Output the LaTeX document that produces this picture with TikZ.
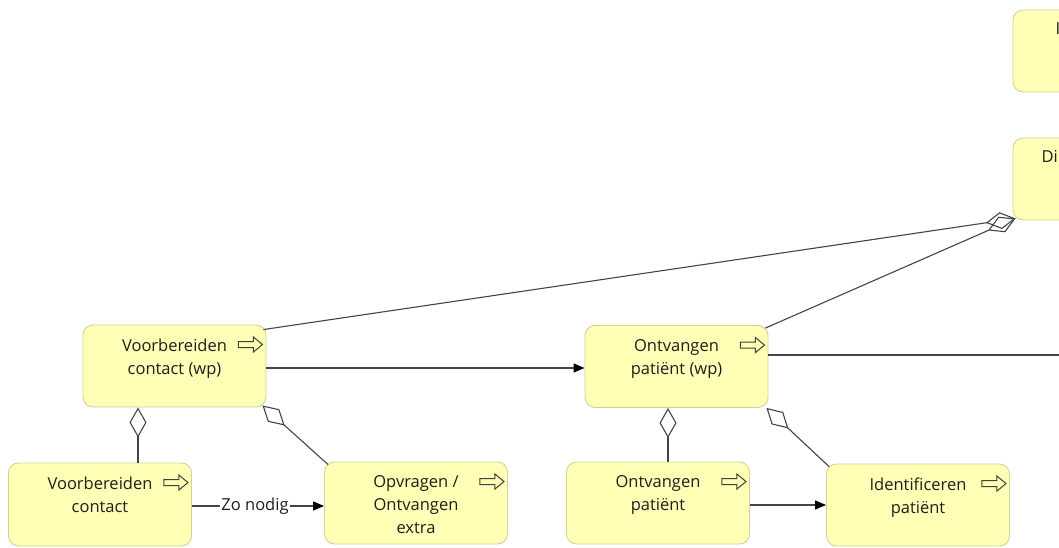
\documentclass[tikz,border=0pt]{standalone}
\usepackage{fontspec}
\setmainfont{Open Sans}
\usetikzlibrary{arrows.meta,calc}
\definecolor{boxfill}{HTML}{FFFFB5}
\definecolor{boxline}{HTML}{D2D298}
\definecolor{wire}{HTML}{444444}
\definecolor{ink}{HTML}{1E1E1E}
% outline "process" arrow drawn inside the upper right corner of a box
\newcommand\procicon[1]{%
  \draw[icon, shift={(#1.north east)}] (-4,20) -- ++(-9,-7.5) -- ++(0,4.5) -- ++(-15,0)
    -- ++(0,6) -- ++(15,0) -- ++(0,4.5) -- cycle;}
\begin{document}
\begin{tikzpicture}[x=1pt,y=-1pt,
  proc/.style={draw=boxline, fill=boxfill, line width=0.9pt, rounded corners=10pt,
    minimum width=183pt, minimum height=82pt, inner sep=0pt},
  txt/.style={font=\fontsize{16.5}{23}\selectfont, text=ink, align=center},
  cap/.style={label={[txt, anchor=north, yshift=-10.5pt]north:#1}},
  icon/.style={draw=ink!85, fill=boxfill, line width=1pt, line join=miter},
  wireline/.style={draw=wire, line width=1.1pt},
  flow/.style={wireline, -{Triangle[length=11pt,width=9pt,color=black]}},
  agg/.style={wireline, {Diamond[open,length=30pt,width=17pt]}-},
]
\useasboundingbox (0,0) rectangle (1059,548);
\clip (0,0) rectangle (1059,548);

% boxes
\node[proc, cap={Voorbereiden\\contact (wp)}] (A) at (174.5,366) {};
\node[proc, cap={Ontvangen\\patiënt (wp)}] (B) at (676.5,366.5) {};
\node[proc, minimum height=83pt, cap={Voorbereiden\\contact}] (C) at (100,504.5) {};
\node[proc, cap={Opvragen /\\Ontvangen\\extra}] (D) at (416,503) {};
\node[proc, cap={Ontvangen\\patiënt}] (E) at (658,503) {};
\node[proc, cap={Identificeren\\patiënt}] (F) at (918,505) {};
\node[proc] (G) at (1104.5,51) {};
\node[proc] (H) at (1104.5,179) {};
\node[txt, inner sep=0pt, anchor=base west] (Gt) at (1055.5,35) {I};
\node[txt, inner sep=0pt, anchor=base west] (Ht) at (1041.5,163) {Di};

\foreach \n in {A,B,C,D,E,F} {\procicon{\n}}

% flows
\draw[flow] (A.east |- 0,368) -- (B.west |- 0,368);
\coordinate (Rout) at (1070,355);
\draw[wireline] (B.east |- Rout) -- (Rout);
\draw[flow] (C.east |- 0,506) -- node[txt, fill=white, inner sep=1pt, xshift=-3pt] (zo) {Zo nodig} (D.west |- 0,506);
\draw[flow] (E.east |- F.west) -- (F.west);

% aggregations
\coordinate (Hc) at ($(H.south west)+(3,-2)$);
\draw[agg] (Hc) -- ($(A.north east)+(-3,5)$);
\draw[agg] (Hc) -- ($(B.north east)+(-3,3)$);
\draw[agg] (A.south -| 138,0) -- (C.north -| 138,0);
\draw[agg] ($(A.south east)+(-4,-2)$) -- ($(D.north west)+(4,3)$);
\draw[agg] (B.south -| 668,0) -- (E.north -| 668,0);
\draw[agg] ($(B.south east)+(-2,0)$) -- ($(F.north west)+(3,3)$);
\end{tikzpicture}
\end{document}
